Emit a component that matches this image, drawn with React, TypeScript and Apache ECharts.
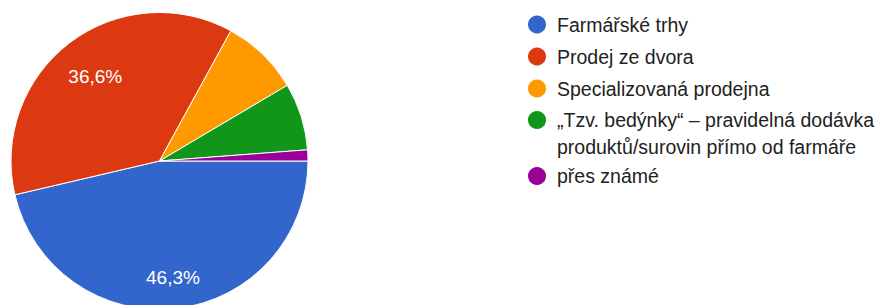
import React, { useEffect, useRef } from 'react';
import * as echarts from 'echarts';

const categories = [
  'Farmářské trhy',
  'Prodej ze dvora',
  'Specializovaná prodejna',
  '„Tzv. bedýnky“ – pravidelná dodávka produktů/surovin přímo od farmáře',
  'přes známé',
];
const shares = [46.3, 36.6, 8.5, 7.3, 1.2];
const colors = ['#3366cc', '#dc3912', '#ff9900', '#109618', '#990099'];

export default function App() {
  const ref = useRef<HTMLDivElement>(null);
  useEffect(() => {
    document.body.style.margin = '0';
    const chart = echarts.init(ref.current!, null, { renderer: 'svg' });
    const data = categories.map((name, i) => ({ name, value: shares[i] }));
    const fmt = (v: number) => v.toFixed(1).replace('.', ',') + '%';
    const center = [159.5, 161];
    const R = 148.5;
    const labelSeries = (idx: number, inner: number) => ({
      type: 'pie',
      silent: true,
      center,
      radius: [inner, R],
      startAngle: 0,
      clockwise: true,
      data,
      legendHoverLink: false,
      itemStyle: { color: 'rgba(0,0,0,0)', borderWidth: 0 },
      label: {
        show: true,
        position: 'inside',
        formatter: (p: any) => (p.dataIndex === idx ? fmt(p.value) : ''),
        color: '#ffffff',
        fontSize: 19,
        fontFamily: 'Liberation Sans, Arial, sans-serif',
      },
      labelLine: { show: false },
      emphasis: { disabled: true },
    });
    const textStyle = {
      fontFamily: 'Liberation Sans, Arial, sans-serif',
      fontSize: 19.5,
      color: '#222222',
      lineHeight: 27,
      padding: [0, 0, 0, 5],
    };
    const legendBase = {
      orient: 'vertical',
      left: 526,
      padding: 0,
      itemWidth: 20,
      itemHeight: 20,
      itemGap: 5,
      icon: 'circle',
      selectedMode: false,
      textStyle,
    };
    chart.setOption({
      animation: false,
      color: colors,
      legend: [
        { ...legendBase, top: 11, data: categories.slice(0, 3) },
        {
          ...legendBase,
          top: 79.5,
          data: [categories[3]],
          formatter: (n: string) => '\n' + n.replace(' produktů', '\nproduktů'),
        },
        { ...legendBase, top: 162.5, data: [categories[4]] },
      ],
      series: [
        {
          type: 'pie',
          center,
          radius: [0, R],
          startAngle: 0,
          clockwise: true,
          data,
          label: { show: false },
          labelLine: { show: false },
          itemStyle: { borderColor: '#ffffff', borderWidth: 1 },
          emphasis: { disabled: true },
        },
        labelSeries(1, 58),
        labelSeries(0, 81),
      ],
    });
    return () => chart.dispose();
  }, []);
  return <div ref={ref} style={{ width: 877, height: 305 }} />;
}
